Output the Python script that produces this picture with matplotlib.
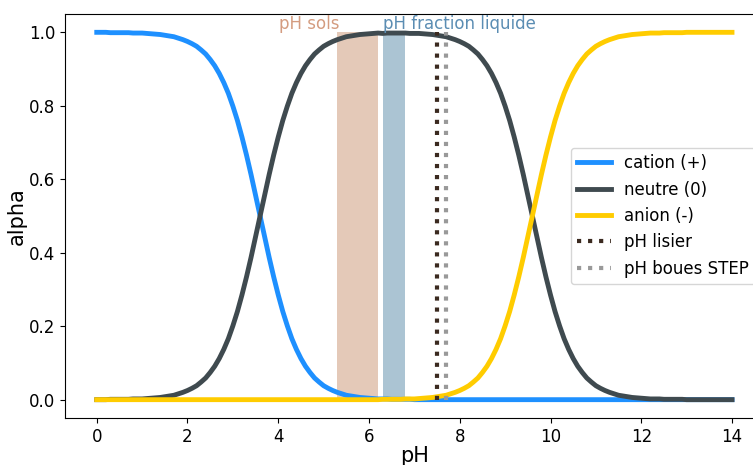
import matplotlib
matplotlib.use('Agg')
import matplotlib.pyplot as plt

# valeurs, pH de 0 a 14 par pas de 0.1
ph = [i / 10 for i in range(141)]

cation = [1.000, 1.000, 1.000, 0.999, 0.999, 0.999, 0.999, 0.999, 0.998, 0.998,
          0.998, 0.997, 0.996, 0.995, 0.994, 0.992, 0.990, 0.988, 0.984, 0.980,
          0.975, 0.969, 0.962, 0.952, 0.941, 0.926, 0.909, 0.888, 0.863, 0.834,
          0.799, 0.760, 0.715, 0.666, 0.613, 0.557, 0.500, 0.443, 0.387, 0.334,
          0.285, 0.240, 0.201, 0.166, 0.137, 0.112, 0.091, 0.074, 0.059, 0.048,
          0.038, 0.031, 0.025, 0.020, 0.016, 0.012, 0.010, 0.008, 0.006, 0.005,
          0.004, 0.003, 0.002, 0.002, 0.002, 0.001, 0.001, 0.001, 0.001, 0.001] + [0.0] * 71

neutre = [0.000, 0.000, 0.000, 0.001, 0.001, 0.001, 0.001, 0.001, 0.002, 0.002,
          0.002, 0.003, 0.004, 0.005, 0.006, 0.008, 0.010, 0.012, 0.016, 0.020,
          0.025, 0.031, 0.038, 0.048, 0.059, 0.074, 0.091, 0.112, 0.137, 0.166,
          0.201, 0.240, 0.285, 0.334, 0.387, 0.443, 0.500, 0.557, 0.613, 0.666,
          0.715, 0.760, 0.799, 0.834, 0.863, 0.888, 0.909, 0.926, 0.941, 0.952,
          0.962, 0.969, 0.975, 0.980, 0.984, 0.988, 0.990, 0.992, 0.994, 0.995,
          0.996, 0.997, 0.998, 0.997, 0.998, 0.998, 0.998, 0.998, 0.998, 0.997,
          0.997, 0.997, 0.996, 0.995, 0.994, 0.992, 0.990, 0.988, 0.984, 0.980,
          0.975, 0.969, 0.962, 0.952, 0.941, 0.926, 0.909, 0.888, 0.863, 0.834,
          0.799, 0.760, 0.715, 0.666, 0.613, 0.557, 0.500, 0.443, 0.387, 0.334,
          0.285, 0.240, 0.201, 0.166, 0.137, 0.112, 0.091, 0.074, 0.059, 0.048,
          0.038, 0.031, 0.025, 0.020, 0.016, 0.012, 0.010, 0.008, 0.006, 0.005,
          0.004, 0.003, 0.002, 0.002, 0.002, 0.001, 0.001, 0.001, 0.001, 0.001] + [0.0] * 11

anion = [0.0] * 60 + [
         0.000, 0.000, 0.000, 0.001, 0.001, 0.001, 0.001, 0.001, 0.002, 0.002,
         0.002, 0.003, 0.004, 0.005, 0.006, 0.008, 0.010, 0.012, 0.016, 0.020,
         0.025, 0.031, 0.038, 0.048, 0.059, 0.074, 0.091, 0.112, 0.137, 0.166,
         0.201, 0.240, 0.285, 0.334, 0.387, 0.443, 0.500, 0.557, 0.613, 0.666,
         0.715, 0.760, 0.799, 0.834, 0.863, 0.888, 0.909, 0.926, 0.941, 0.952,
         0.962, 0.969, 0.975, 0.980, 0.984, 0.988, 0.990, 0.992, 0.994, 0.995,
         0.996, 0.997, 0.998, 0.998, 0.998, 0.999, 0.999, 0.999, 0.999, 0.999] + [1.0] * 11

ph_sols = [5.3, 6.2]
ph_liquide = [6.3, 6.8]
ph_lisier = 7.5
ph_boues = 7.7

fig = plt.figure(figsize=(7.53, 4.65), dpi=100)
ax = fig.add_axes([0.0863, 0.101, 0.928, 0.869])

ax.fill_between(ph_sols, 0, 1, color='#e4c9b8', lw=0, zorder=1)
ax.fill_between(ph_liquide, 0, 1, color='#abc4d3', lw=0, zorder=1)
ax.text(ph_sols[0] + 0.05, 1.01, 'pH sols', color='#d49c80', fontsize=12,
        ha='right', va='baseline')
ax.text(ph_liquide[0], 1.01, 'pH fraction liquide', color='#5b8db3', fontsize=12,
        ha='left', va='baseline')

ax.plot(ph, cation, color='#1e90ff', lw=3.5, label='cation (+)', zorder=2)
ax.plot(ph, neutre, color='#3f4a4f', lw=3.5, label='neutre (0)', zorder=2)
ax.plot(ph, anion, color='#ffcc00', lw=3.5, label='anion (-)', zorder=2)
ax.plot([ph_lisier, ph_lisier], [0, 1], ':', color='#3b2a20', lw=3,
        label='pH lisier', zorder=3)
ax.plot([ph_boues, ph_boues], [0, 1], ':', color='#999999', lw=3,
        label='pH boues STEP', zorder=3)

ax.set_xticks([0, 2, 4, 6, 8, 10, 12, 14])
ax.tick_params(labelsize=12)
ax.set_xlabel('pH', fontsize=15, labelpad=0)
ax.set_ylabel('alpha', fontsize=15, labelpad=1.5)
ax.legend(loc='center right', fontsize=12)

fig.savefig('out.png', dpi=100)
